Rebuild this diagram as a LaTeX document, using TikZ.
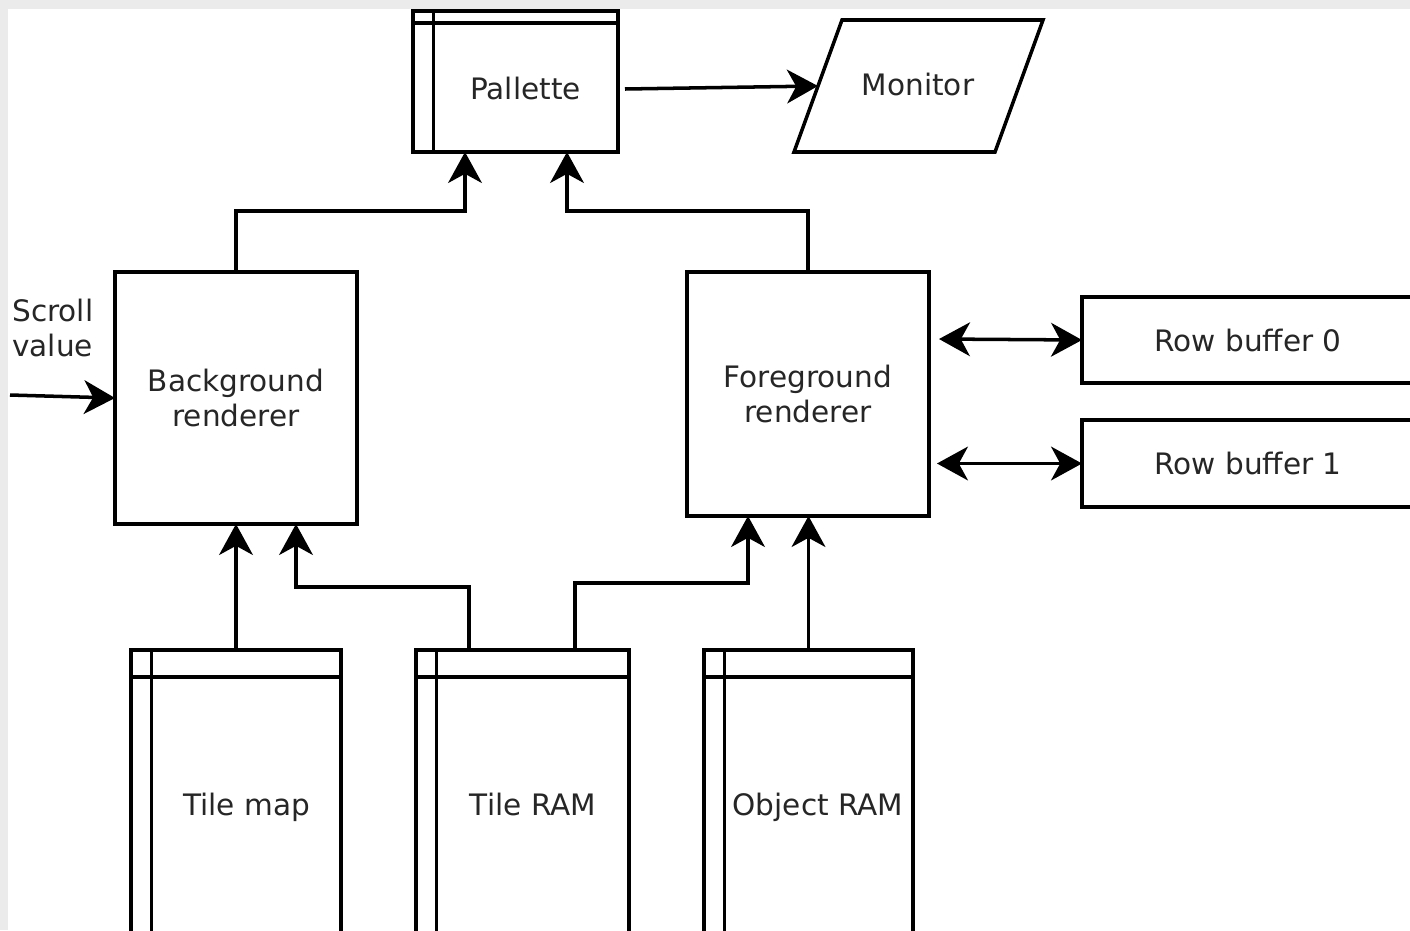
\documentclass[tikz,border=0pt]{standalone}
\usepackage{fontspec}
\setmainfont{DejaVu Sans}
\usetikzlibrary{arrows.meta,calc,positioning}
\newcommand{\pxl}{0.025cm}

\begin{document}
\begin{tikzpicture}[
  x=\pxl, y=-\pxl,
  font=\fontsize{21}{25.5}\selectfont,
  box/.style={draw, line width=2.5pt, inner sep=0pt, outer sep=0pt, align=center, text=black!85},
  store/.style={box, path picture={
    \draw[line width=2.5pt] ([xshift=20.5*\pxl]path picture bounding box.north west) -- ([xshift=20.5*\pxl]path picture bounding box.south west);
    \draw[line width=2.5pt] ([yshift=-#1*\pxl]path picture bounding box.north west) -- ([yshift=-#1*\pxl]path picture bounding box.north east);}},
  lbl/.style={align=center, text=black!85, inner sep=0pt},
  word/.style={lbl, anchor=base},
  arr/.style={-{Stealth[length=22pt, width=24pt, inset=6.5pt]}, line width=2.5pt},
  darr/.style={{Stealth[length=22pt, width=24pt, inset=6.5pt]}-{Stealth[length=22pt, width=24pt, inset=6.5pt]}, line width=2.5pt}
]
\useasboundingbox (0,0) rectangle (1410,930);
\clip (0,0) rectangle (1410,930);
\fill[black!8] (0,0) rectangle (1410,930);
\fill[white] (8,9) rectangle (1410,930);

% top row
\node[store=12, minimum width=205*\pxl, minimum height=141*\pxl] (pal) at (515.5,81.5) {};
\node[word] (paltxt) at (525.5,99) {Pallette};
\draw[line width=2.5pt] (794,152) -- (842,20) -- (1043,20) -- (995,152) -- cycle;
\node[word] (mon) at (918,95) {Monitor};
\coordinate (monin) at (818,86);

% renderers
\node[box, minimum width=242*\pxl, minimum height=252*\pxl] (bg) at (236,398) {Background\\renderer};
\node[box, minimum width=242*\pxl, minimum height=244*\pxl] (fg) at (808,394) {Foreground\\renderer};
\node[lbl, align=left, anchor=west] (scroll) at (12,328) {Scroll\\value};
\coordinate (scrollin) at (10,395);

% row buffers
\node[box, minimum width=332*\pxl, minimum height=86*\pxl] (rb0) at (1248,340) {Row buffer 0};
\node[box, minimum width=332*\pxl, minimum height=87*\pxl] (rb1) at (1248,463.5) {Row buffer 1};

% memories
\node[store=27, minimum width=210*\pxl, minimum height=284*\pxl] (tilemap) at (236,792) {};
\node[word] (tilemaptxt) at (246.5,815) {Tile map};
\node[store=27, minimum width=213*\pxl, minimum height=284*\pxl] (tileram) at (522.5,792) {};
\node[word] (tileramtxt) at (533,815) {Tile RAM};
\node[store=27, minimum width=209*\pxl, minimum height=284*\pxl] (objram) at (808.5,792) {};
\node[word] (objramtxt) at (818,815) {Object RAM};

% connections
\draw[arr] ($(pal.east)+(7,7.5)$) -- (monin);
\draw[arr] (scrollin) -- (bg.west);
\draw[arr] (bg.north) -- ++(0,-61) -| ($(pal.south)+(-50.5,0)$);
\draw[arr] (fg.north) -- ++(0,-61) -| ($(pal.south)+(51.5,0)$);
\draw[darr] ($(fg.east |- rb0.west)+(10,-1)$) -- (rb0.west);
\draw[darr] ($(fg.east |- rb1.west)+(8,0)$) -- (rb1.west);
\draw[arr] (tilemap.north) -- (bg.south);
\draw[arr] ($(tileram.north)+(-53.5,0)$) -- ++(0,-63) -| ($(bg.south)+(60,0)$);
\draw[arr] ($(tileram.north)+(52.5,0)$) -- ++(0,-67) -| ($(fg.south)+(-60,0)$);
\draw[arr] (objram.north) -- (objram.north |- fg.south);
\end{tikzpicture}
\end{document}
